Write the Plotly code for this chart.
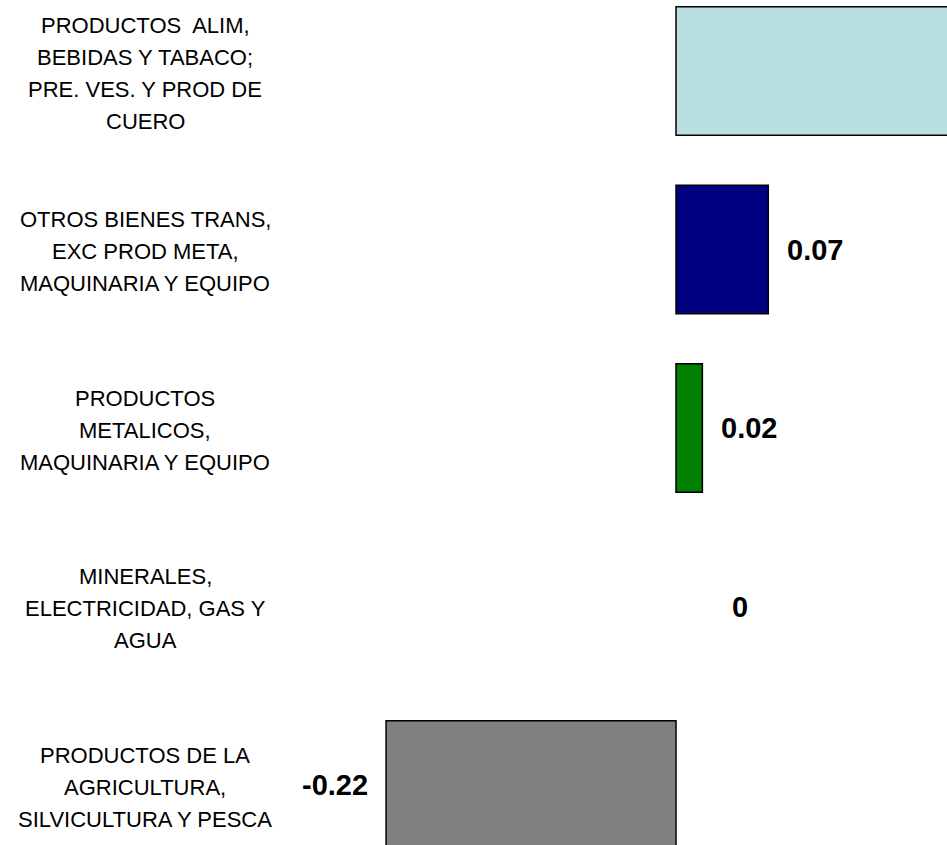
import plotly.graph_objects as go

# Categories listed bottom -> top (lines of each wrapped label separated by "|")
categories = [
    "PRODUCTOS DE LA|AGRICULTURA,|SILVICULTURA Y PESCA",
    "MINERALES,|ELECTRICIDAD, GAS Y|AGUA",
    "PRODUCTOS|METALICOS,|MAQUINARIA Y EQUIPO",
    "OTROS BIENES TRANS,|EXC PROD META,|MAQUINARIA Y EQUIPO",
    "PRODUCTOS  ALIM,|BEBIDAS Y TABACO;|PRE. VES. Y PROD DE|CUERO",
]
values = [-0.22, 0.0, 0.02, 0.07, 0.25]
value_labels = ["-0.22", "0", "0.02", "0.07", "0.25"]
colors = ["#808080", "#808080", "#008000", "#000080", "#B9DFE2"]

FONT = "Liberation Sans, Arial, sans-serif"

fig = go.Figure()
fig.add_trace(go.Bar(
    y=categories,
    x=values,
    orientation="h",
    width=0.72,
    marker=dict(color=colors,
                line=dict(color="#000000",
                          width=[0 if v == 0 else 1.5 for v in values])),
    hoverinfo="skip",
))

annotations = []
line_gap = 32
for cat in categories:
    lines = cat.split("|")
    n = len(lines)
    for i, ln in enumerate(lines):
        offset = ((n - 1) / 2 - i) * line_gap - 2
        annotations.append(dict(
            xref="paper", yref="y", x=145 / 947, y=cat,
            text=ln, showarrow=False, xanchor="center", yanchor="middle",
            yshift=offset,
            font=dict(family=FONT, size=22, color="#000000"),
        ))

for cat, v, lab in zip(categories, values, value_labels):
    if v < 0:
        anchor, shift = "right", -16
    elif v == 0:
        anchor, shift = "left", 54
    else:
        anchor, shift = "left", 17
    annotations.append(dict(
        xref="x", yref="y", x=v, y=cat, text="<b>" + lab + "</b>",
        showarrow=False, xanchor=anchor, yanchor="middle", xshift=shift,
        font=dict(family=FONT, size=29, color="#000000"),
    ))

fig.update_layout(
    width=947, height=845,
    margin=dict(l=0, r=0, t=0, b=0),
    paper_bgcolor="white", plot_bgcolor="white",
    showlegend=False,
    hovermode=False,
    annotations=annotations,
    xaxis=dict(range=[-0.5129, 0.2056], showgrid=False, zeroline=False,
               showticklabels=False, ticks="", showline=False),
    yaxis=dict(type="category", categoryorder="array", categoryarray=categories,
               range=[-0.336, 4.398], showgrid=False, zeroline=False,
               showticklabels=False, ticks="", showline=False),
)

fig.write_html("out.html", config={"displayModeBar": False},
               post_script="document.body.style.margin='0';")
